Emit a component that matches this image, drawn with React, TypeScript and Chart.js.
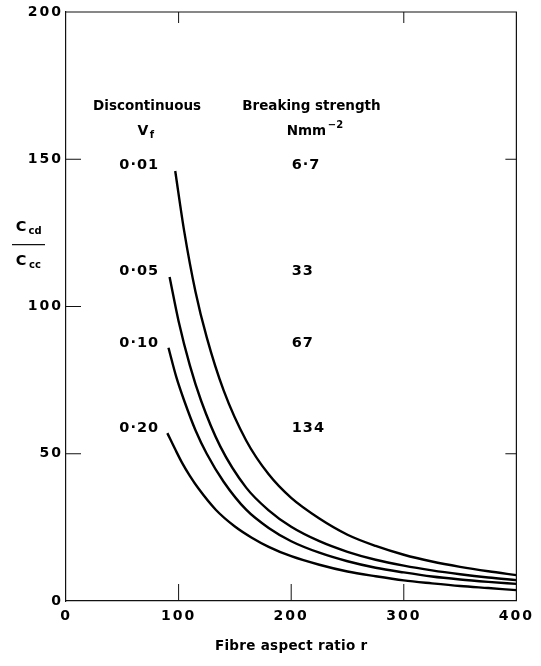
import { useEffect, useRef } from 'react';
import { Chart, registerables } from 'chart.js';

Chart.register(...registerables);

// ---- data ----
const xTicks = [0, 100, 200, 300, 400];
const yTicks = [0, 50, 100, 150, 200];

const vfLabels = ['0·01', '0·05', '0·10', '0·20'];
const strengthLabels = ['6·7', '33', '67', '134'];
const labelY = [148, 112, 87.5, 58.5];

const x001 = [97, 105, 115, 125, 140, 160, 180, 200, 225, 250, 275, 300, 325, 350, 375, 400];
const y001 = [146, 125.5, 105, 89.5, 71.5, 54.5, 43, 35, 28, 22.5, 18.7, 15.7, 13.4, 11.6, 10.1, 8.8];

const x005 = [92, 100, 110, 120, 137, 160, 180, 200, 225, 250, 275, 300, 325, 350, 375, 400];
const y005 = [110, 95, 80, 68, 52.5, 38.5, 30.8, 25.2, 20.3, 16.7, 14, 12, 10.4, 9.1, 8, 7.1];

const x010 = [91, 98, 105, 115, 125, 140, 160, 180, 200, 225, 250, 275, 300, 325, 350, 375, 400];
const y010 = [86, 76, 68, 58, 50, 40.5, 31, 24.8, 20.3, 16.4, 13.5, 11.3, 9.7, 8.3, 7.3, 6.5, 5.8];

const x020 = [90, 97, 103, 110, 118, 133, 150, 165, 180, 200, 225, 250, 275, 300, 325, 350, 375, 400];
const y020 = [57, 51.5, 47, 42.5, 38, 31, 25.3, 21.5, 18.4, 15.2, 12.3, 10, 8.4, 7, 6, 5.1, 4.4, 3.7];

const seriesX = [x001, x005, x010, x020];
const seriesY = [y001, y005, y010, y020];

// inward tick marks per side
const leftTicks = [50, 100, 150];
const rightTicks = [50, 150];
const topTicks = [100, 300];
const bottomTicks = [100, 200, 300];

const FONT = 'DejaVu Sans';

const framePlugin = {
  id: 'frameAndText',
  beforeUpdate(chart: any) {
    chart.ctx.letterSpacing = '2px';
  },
  beforeDraw(chart: any) {
    chart.ctx.letterSpacing = '2px';
  },
  afterDraw(chart: any) {
    const ctx = chart.ctx as CanvasRenderingContext2D;
    const xs = chart.scales.x;
    const ys = chart.scales.y;
    const { left, right, top, bottom } = chart.chartArea;
    ctx.save();
    (ctx as any).letterSpacing = '0px';
    ctx.strokeStyle = '#111';
    ctx.lineWidth = 1.2;
    ctx.beginPath();
    ctx.moveTo(left, top);
    ctx.lineTo(right, top);
    ctx.lineTo(right, bottom);
    ctx.stroke();
    ctx.lineWidth = 1;
    ctx.beginPath();
    leftTicks.forEach((v) => {
      const p = ys.getPixelForValue(v);
      ctx.moveTo(left, p);
      ctx.lineTo(left + 15, p);
    });
    rightTicks.forEach((v) => {
      const p = ys.getPixelForValue(v);
      ctx.moveTo(right, p);
      ctx.lineTo(right - 11, p);
    });
    topTicks.forEach((v) => {
      const p = xs.getPixelForValue(v);
      ctx.moveTo(p, top);
      ctx.lineTo(p, top + 11);
    });
    bottomTicks.forEach((v) => {
      const p = xs.getPixelForValue(v);
      ctx.moveTo(p, bottom);
      ctx.lineTo(p, bottom - 17);
    });
    ctx.stroke();

    ctx.fillStyle = '#000';
    ctx.textBaseline = 'middle';

    const text = (s: string, x: number, y: number, size: number, align: CanvasTextAlign, ls = 0) => {
      ctx.font = `bold ${size}px "${FONT}"`;
      (ctx as any).letterSpacing = `${ls}px`;
      ctx.textAlign = align;
      ctx.fillText(s, x, y);
    };

    // headers
    text('Discontinuous', xs.getPixelForValue(72), ys.getPixelForValue(168), 13.5, 'center');
    const vx = xs.getPixelForValue(71);
    const vy = ys.getPixelForValue(159.5);
    text('V', vx - 3, vy, 14, 'center');
    text('f', vx + 6, vy + 4, 10, 'center');
    text('Breaking strength', xs.getPixelForValue(218), ys.getPixelForValue(168), 13.5, 'center');
    const nx = xs.getPixelForValue(218);
    text('Nmm', nx - 5, vy, 13.5, 'center');
    text('−2', nx + 24, vy - 6, 10, 'center');

    // curve labels
    vfLabels.forEach((s, i) => {
      text(s, xs.getPixelForValue(65), ys.getPixelForValue(labelY[i]), 14.5, 'center', 1);
    });
    strengthLabels.forEach((s, i) => {
      text(s, xs.getPixelForValue(200.5), ys.getPixelForValue(labelY[i]), 14.5, 'left', 1);
    });

    // x title
    text('Fibre aspect ratio r', xs.getPixelForValue(200), bottom + 45, 13.5, 'center', 0.3);

    // y title (fraction)
    const fx = 27;
    const fy = ys.getPixelForValue(121);
    text('C', fx - 6, fy - 17, 14.5, 'center');
    text('cd', fx + 8, fy - 13, 10, 'center');
    ctx.lineWidth = 1.3;
    ctx.beginPath();
    ctx.moveTo(fx - 15, fy);
    ctx.lineTo(fx + 18, fy);
    ctx.stroke();
    text('C', fx - 6, fy + 17, 14.5, 'center');
    text('cc', fx + 8, fy + 21, 10, 'center');

    ctx.restore();
  },
};

export default function App() {
  const ref = useRef<HTMLCanvasElement>(null);
  useEffect(() => {
    const canvas = ref.current;
    if (!canvas) return;
    const datasets = seriesX.map((xv, si) => ({
      data: xv.map((x, i) => ({ x, y: seriesY[si][i] })),
      borderColor: '#000',
      borderWidth: 2.4,
      pointRadius: 0,
      fill: false,
      cubicInterpolationMode: 'monotone' as const,
    }));
    const chart = new Chart(canvas, {
      type: 'line',
      data: { datasets },
      options: {
        animation: false,
        responsive: false,
        layout: { padding: { top: 12, right: 22, left: 0, bottom: 0 } },
        plugins: { legend: { display: false }, tooltip: { enabled: false } },
        scales: {
          x: {
            type: 'linear',
            min: 0,
            max: 400,
            afterBuildTicks: (s: any) => {
              s.ticks = xTicks.map((v) => ({ value: v }));
            },
            afterFit: (s: any) => {
              s.height = 65;
            },
            grid: { display: false, drawTicks: false },
            border: { display: true, color: '#111', width: 1.2 },
            ticks: { font: { family: FONT, size: 14, weight: 'bold' }, color: '#000', padding: 7, maxRotation: 0, autoSkip: false },
          },
          y: {
            type: 'linear',
            min: 0,
            max: 200,
            afterBuildTicks: (s: any) => {
              s.ticks = yTicks.map((v) => ({ value: v }));
            },
            afterFit: (s: any) => {
              s.width = 66;
            },
            grid: { display: false, drawTicks: false },
            border: { display: true, color: '#111', width: 1.2 },
            ticks: { font: { family: FONT, size: 14, weight: 'bold' }, color: '#000', padding: 3, autoSkip: false },
          },
        },
      },
      plugins: [framePlugin],
    });
    return () => chart.destroy();
  }, []);
  return (
    <canvas
      ref={ref}
      width={541}
      height={666}
      style={{ position: 'absolute', left: 0, top: 0, width: 541, height: 666 }}
    />
  );
}
